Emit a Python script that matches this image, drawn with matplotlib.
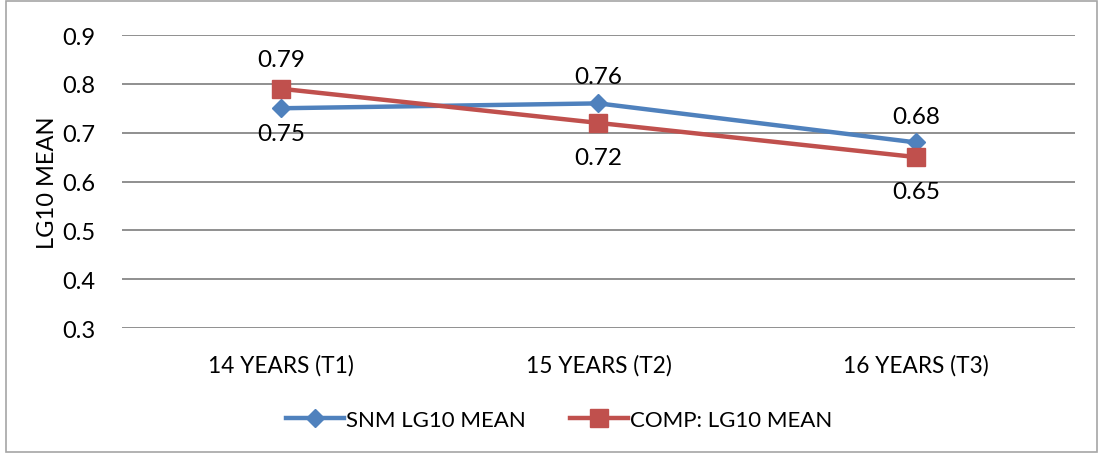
import matplotlib
matplotlib.use("Agg")
import matplotlib.pyplot as plt
from matplotlib.lines import Line2D
from matplotlib.patches import Rectangle

plt.rcParams['font.family'] = ['Lato', 'DejaVu Sans']

categories = ["14 YEARS (T1)", "15 YEARS (T2)", "16 YEARS (T3)"]
snm_mean = [0.75, 0.76, 0.68]
comp_mean = [0.79, 0.72, 0.65]
snm_label_side = ["below", "above", "above"]
comp_label_side = ["above", "below", "below"]
y_ticks = [0.3, 0.4, 0.5, 0.6, 0.7, 0.8, 0.9]

blue = "#4F81BD"
red = "#C0504D"

fig = plt.figure(figsize=(11.03, 4.56), dpi=100)
ax = fig.add_axes([0.1106, 0.2785, 0.8640, 0.6425])

x = list(range(len(categories)))
ax.plot(x, snm_mean, color=blue, lw=3.2, marker="D", ms=9.5, zorder=3,
        label="SNM LG10 MEAN", solid_capstyle="round")
ax.plot(x, comp_mean, color=red, lw=3.2, marker="s", ms=12.5, zorder=4,
        label="COMP: LG10 MEAN", solid_capstyle="round")

for xi, v, side in zip(x, snm_mean, snm_label_side):
    off = 19 if side == "above" else -18
    ax.annotate(f"{v:.2f}", (xi, v), xytext=(0, off), textcoords="offset points",
                ha="center", va="center", fontsize=17.5, color="black")
for xi, v, side in zip(x, comp_mean, comp_label_side):
    off = 21 if side == "above" else -25
    ax.annotate(f"{v:.2f}", (xi, v), xytext=(0, off), textcoords="offset points",
                ha="center", va="center", fontsize=17.5, color="black")

ax.set_xlim(-0.5, 2.5)
ax.set_ylim(0.3, 0.9)
ax.set_yticks(y_ticks)
ax.set_yticklabels([f"{t:.1f}" for t in y_ticks], fontsize=17)
ax.set_xticks(x)
ax.set_xticklabels(categories, fontsize=16.3)
ax.tick_params(axis="both", length=0)
ax.tick_params(axis="y", pad=19)
ax.tick_params(axis="x", pad=19)
ax.yaxis.grid(True, color="#878787", lw=1.3)
ax.set_axisbelow(True)
for s in ax.spines.values():
    s.set_visible(False)
ax.set_ylabel("LG10 MEAN", fontsize=17, labelpad=3)

handles = [
    Line2D([0], [0], color=blue, lw=3.2, marker="D", ms=9.5),
    Line2D([0], [0], color=red, lw=3.2, marker="s", ms=12.5),
]
fig.legend(handles, ["SNM LG10 MEAN", "COMP: LG10 MEAN"], loc="center",
           bbox_to_anchor=(0.507, 0.077), ncol=2, frameon=False, fontsize=16,
           handlelength=2.6, handletextpad=0.1, columnspacing=2.0)

fig.patches.append(Rectangle((0.005, 0.006), 0.99, 0.99, transform=fig.transFigure,
                             fill=False, edgecolor="#A6A6A6", lw=1.2))

fig.savefig("out.png", dpi=100)
